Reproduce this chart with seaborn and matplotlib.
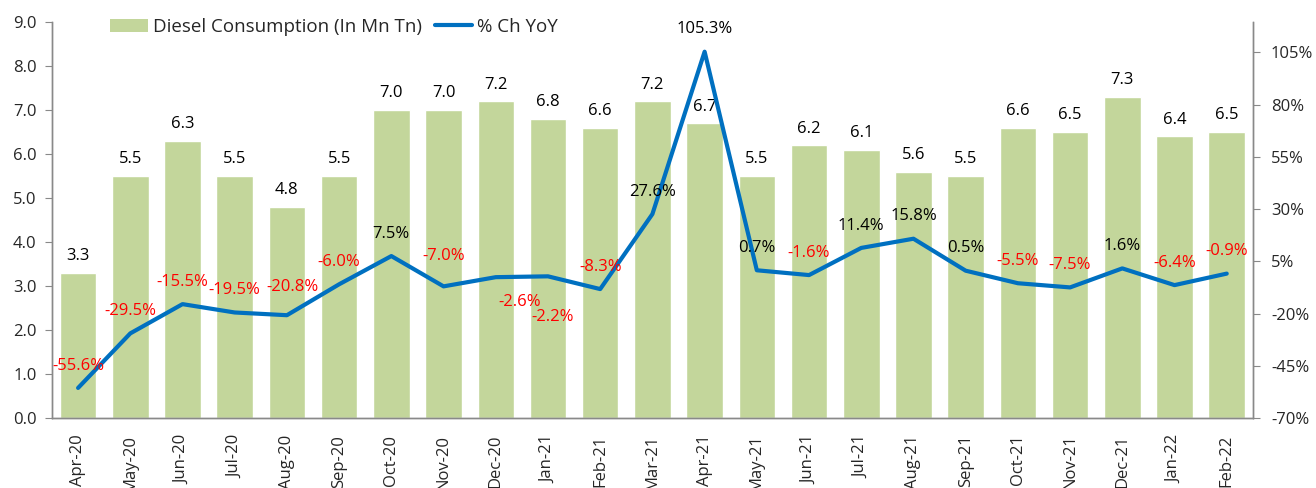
import numpy as np
import pandas as pd
import matplotlib
matplotlib.use("Agg")
import matplotlib.pyplot as plt
import seaborn as sns
from matplotlib.ticker import FixedLocator, FuncFormatter
from matplotlib.patches import Patch
from matplotlib.lines import Line2D

# =========================================
# DATA
# =========================================

months = ["Apr-20", "May-20", "Jun-20", "Jul-20", "Aug-20", "Sep-20", "Oct-20",
          "Nov-20", "Dec-20", "Jan-21", "Feb-21", "Mar-21", "Apr-21", "May-21",
          "Jun-21", "Jul-21", "Aug-21", "Sep-21", "Oct-21", "Nov-21", "Dec-21",
          "Jan-22", "Feb-22"]

diesel = [3.3, 5.5, 6.3, 5.5, 4.8, 5.5, 7.0, 7.0, 7.2, 6.8, 6.6, 7.2, 6.7,
          5.5, 6.2, 6.1, 5.6, 5.5, 6.6, 6.5, 7.3, 6.4, 6.5]

yoy = [-55.6, -29.5, -15.5, -19.5, -20.8, -6.0, 7.5, -7.0, -2.6, -2.2, -8.3,
       27.6, 105.3, 0.7, -1.6, 11.4, 15.8, 0.5, -5.5, -7.5, 1.6, -6.4, -0.9]

left_ticks = [0, 1, 2, 3, 4, 5, 6, 7, 8, 9]
right_ticks = [-70, -45, -20, 5, 30, 55, 80, 105]

df = pd.DataFrame({"month": months, "diesel": diesel, "yoy": yoy})
df["pos"] = np.arange(len(df))

# label offsets (points) for the few labels that are not straight above
yoy_offsets = {4: (4, 20), 7: (0, 22), 8: (17, -18), 9: (3, -29)}

# =========================================
# STYLE
# =========================================

sns.set_style("white")
plt.rcParams["font.family"] = ["Open Sans", "DejaVu Sans"]

BAR = "#c3d69b"
LINE = "#0070c0"
AXIS = "#898989"
FS = 12

fig = plt.figure(figsize=(13.16, 4.88), dpi=100)
ax = fig.add_axes([0.0395, 0.1434, 0.9125, 0.8115])

sns.barplot(data=df, x="month", y="diesel", color=BAR, width=0.7,
            saturation=1, ax=ax)
ax.set_xlim(-0.5, len(df) - 0.5)
ax.set_ylim(0, 9)
ax.set_yticks(left_ticks)
ax.yaxis.set_major_formatter(FuncFormatter(lambda v, p: f"{v:.1f}"))
ax.set_xlabel("")
ax.set_ylabel("")

for i, v in enumerate(diesel):
    ax.annotate(f"{v:.1f}", (i, v), xytext=(0, 12), textcoords="offset points",
                ha="center", va="center", fontsize=FS, color="black")

ax2 = ax.twinx()
sns.lineplot(data=df, x="pos", y="yoy", color=LINE, linewidth=3, ax=ax2)
ax2.set_ylim(-70, 119.5)
ax2.set_yticks(right_ticks)
ax2.yaxis.set_major_formatter(FuncFormatter(lambda v, p: f"{v:.0f}%"))
ax2.set_ylabel("")
ax2.set_xlim(-0.5, len(df) - 0.5)

for i, v in enumerate(yoy):
    dx, dy = yoy_offsets.get(i, (0, 16))
    ax2.annotate(f"{v:.1f}%", (i, v), xytext=(dx, dy), textcoords="offset points",
                 ha="center", va="center", fontsize=FS,
                 color="#ff0000" if v < 0 else "black")

# =========================================
# AXES
# =========================================

for a in (ax, ax2):
    for s in a.spines.values():
        s.set_color(AXIS)
        s.set_linewidth(1)
    a.spines["top"].set_visible(False)

ax.set_xticks(np.arange(len(df)))
ax.set_xticklabels(months, rotation=90, fontsize=FS)
ax.xaxis.set_minor_locator(FixedLocator(np.arange(-0.5, len(df), 1)))
ax.tick_params(axis="x", which="major", length=0, pad=12)
ax.tick_params(axis="x", which="minor", length=6, color=AXIS, direction="out")
ax.tick_params(axis="y", length=5, color=AXIS, direction="out", labelsize=FS, left=True, pad=6)
ax2.tick_params(axis="y", length=5, color=AXIS, direction="out", labelsize=FS, right=True, pad=8)
ax2.tick_params(axis="x", bottom=False, labelbottom=False)

handles = [Patch(facecolor=BAR, edgecolor="none"),
           Line2D([0], [0], color=LINE, linewidth=3)]
fig.legend(handles, ["Diesel Consumption (In Mn Tn)", "% Ch YoY"],
           loc="center left", bbox_to_anchor=(0.0836, 0.945), ncol=2,
           frameon=False, fontsize=13.5, handlelength=2.0, handleheight=0.7,
           columnspacing=0.7, handletextpad=0.27, borderpad=0, borderaxespad=0)

plt.savefig("out.png", dpi=100)
